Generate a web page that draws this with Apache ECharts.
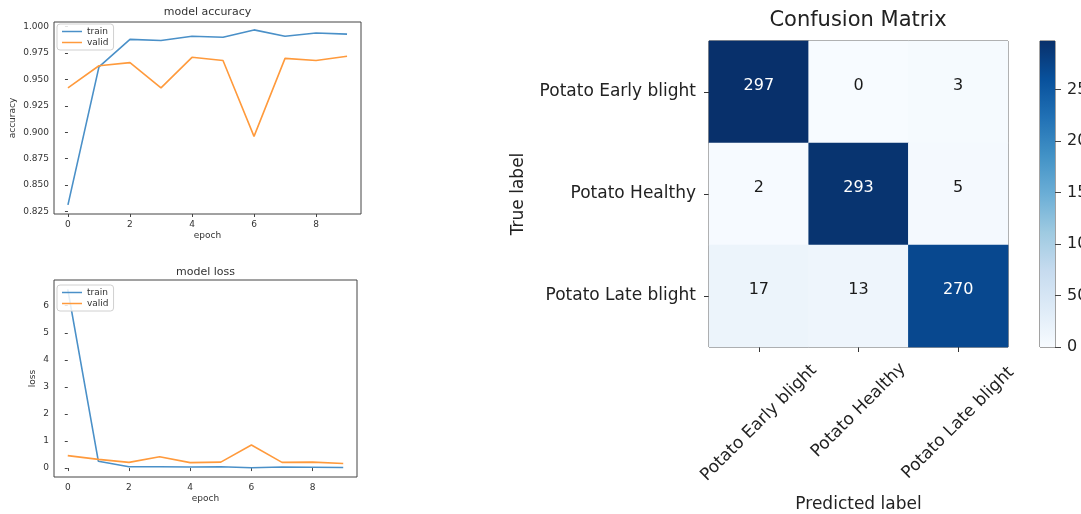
<!DOCTYPE html>
<html>
<head>
<meta charset="utf-8">
<script src="https://cdn.jsdelivr.net/npm/echarts@6/dist/echarts.min.js"></script>
<style>
  html, body { margin: 0; padding: 0; background: #fff; }
  #chart { width: 1081px; height: 514px; }
</style>
</head>
<body>
<div id="chart"></div>
<script>
// Training history (per epoch)
const epochs = [0, 1, 2, 3, 4, 5, 6, 7, 8, 9];
const accTrain = [0.831, 0.962, 0.988, 0.987, 0.991, 0.990, 0.997, 0.991, 0.994, 0.993];
const accValid = [0.942, 0.963, 0.966, 0.942, 0.971, 0.968, 0.896, 0.970, 0.968, 0.972];
const lossTrain = [6.6, 0.25, 0.05, 0.05, 0.04, 0.05, 0.01, 0.04, 0.03, 0.02];
const lossValid = [0.46, 0.32, 0.21, 0.42, 0.20, 0.22, 0.85, 0.21, 0.22, 0.17];

// Tick labels
const epochTicks = [0, 2, 4, 6, 8];
const accTicks = [0.825, 0.850, 0.875, 0.900, 0.925, 0.950, 0.975, 1.000];
const lossTicks = [0, 1, 2, 3, 4, 5, 6];
const colorbarTicks = [0, 50, 100, 150, 200, 250];

// Confusion matrix (rows: true label, columns: predicted label)
const classes = ['Potato Early blight', 'Potato Healthy', 'Potato Late blight'];
const cmRow0 = [297, 0, 3];
const cmRow1 = [2, 293, 5];
const cmRow2 = [17, 13, 270];

// matplotlib "Blues" colormap
const blues = ['#f7fbff', '#deebf7', '#c6dbef', '#9ecae1', '#6baed6', '#4292c6', '#2171b5', '#08519c', '#08306b'];

const FONT = 'DejaVu Sans';
const TXT = '#333';
const cm = [cmRow0, cmRow1, cmRow2];
const cmMax = Math.max(...cm.flat());
const thresh = cmMax / 2;

const heatData = [];
cm.forEach((row, i) => row.forEach((v, j) => {
  heatData.push({ value: [j, i, v], label: { color: v > thresh ? '#ffffff' : '#1a1a1a' } });
}));

const pairs = (ys) => epochs.map((e, i) => [e, ys[i]]);

function lineAxisX(grid) {
  return {
    type: 'value', gridIndex: grid, min: -0.45, max: 9.45,
    name: 'epoch', nameLocation: 'middle', nameGap: 17,
    nameTextStyle: { fontSize: 9, color: TXT, fontFamily: FONT },
    axisLine: { show: false },
    axisTick: { show: true, length: 3, customValues: epochTicks, lineStyle: { color: '#444' } },
    axisLabel: { customValues: epochTicks, fontSize: 9, color: TXT, margin: 6, fontFamily: FONT },
    splitLine: { show: false }
  };
}

// legend entries drawn as plain line segments
function legendAt(top) {
  return {
    orient: 'vertical', left: 57, top: top,
    padding: [3, 5], itemGap: 2, itemWidth: 20, itemHeight: 10,
    icon: 'path://M0,0H40V3H0Z', symbolKeepAspect: true,
    borderColor: '#d0d0d0', borderWidth: 1, borderRadius: 3,
    backgroundColor: 'rgba(255,255,255,0.85)',
    textStyle: { fontSize: 9, color: TXT, fontFamily: FONT },
    data: ['train', 'valid']
  };
}

const BLUE = '#4a90c8';
const ORANGE = '#ff9a3c';

const option = {
  animation: false,
  backgroundColor: '#ffffff',
  textStyle: { fontFamily: FONT },
  title: [
    { text: 'model accuracy', left: 207.5, top: 7, textAlign: 'center', padding: 0,
      textStyle: { fontSize: 11, fontWeight: 'normal', color: TXT, fontFamily: FONT } },
    { text: 'model loss', left: 205.5, top: 267, textAlign: 'center', padding: 0,
      textStyle: { fontSize: 11, fontWeight: 'normal', color: TXT, fontFamily: FONT } },
    { text: 'Confusion Matrix', left: 858, top: 10, textAlign: 'center', padding: 0,
      textStyle: { fontSize: 21, fontWeight: 'normal', color: '#222', fontFamily: FONT } }
  ],
  legend: [
    Object.assign(legendAt(24), { id: 'accLegend' }),
    Object.assign(legendAt(285), { id: 'lossLegend' })
  ],
  visualMap: {
    show: false, type: 'continuous', min: 0, max: cmMax, seriesIndex: 4,
    inRange: { color: blues }
  },
  grid: [
    { left: 54, top: 22, width: 307, height: 192, show: true, borderColor: '#444', borderWidth: 1, outerBoundsMode: 'none' },
    { left: 54, top: 280, width: 303, height: 197, show: true, borderColor: '#444', borderWidth: 1, outerBoundsMode: 'none' },
    { left: 709, top: 41, width: 299, height: 306, show: true, borderColor: '#333', borderWidth: 1, outerBoundsMode: 'none' },
    { left: 1040, top: 41, width: 15, height: 306, show: true, borderColor: '#444', borderWidth: 1, outerBoundsMode: 'none' }
  ],
  xAxis: [
    lineAxisX(0),
    lineAxisX(1),
    {
      type: 'category', gridIndex: 2, data: classes,
      name: 'Predicted label', nameLocation: 'middle', nameGap: 149,
      nameTextStyle: { fontSize: 17, color: '#222', fontFamily: FONT },
      axisLine: { show: false },
      axisTick: { show: true, alignWithLabel: true, length: 5, lineStyle: { color: '#333' } },
      axisLabel: {
        rotate: 45, align: 'center', verticalAlign: 'middle', margin: 76, interval: 0,
        formatter: (v, i) => '{s' + i + '|' + v + '}',
        rich: {
          s0: { fontSize: 17, color: '#222', fontFamily: FONT },
          s1: { fontSize: 17, color: '#222', fontFamily: FONT, padding: [0, 0, 18, 18] },
          s2: { fontSize: 17, color: '#222', fontFamily: FONT }
        }
      },
      splitLine: { show: false }
    },
    { type: 'category', gridIndex: 3, data: ['scale'], show: false }
  ],
  yAxis: [
    {
      type: 'value', gridIndex: 0, min: 0.8224, max: 1.0045,
      name: 'accuracy', nameLocation: 'middle', nameGap: 37, nameRotate: 90,
      nameTextStyle: { fontSize: 9, color: TXT, fontFamily: FONT },
      axisLine: { show: false },
      axisTick: { show: true, length: 3, customValues: accTicks, lineStyle: { color: '#444' } },
      axisLabel: { customValues: accTicks, fontSize: 9, color: TXT, margin: 5, fontFamily: FONT,
        formatter: (v) => v.toFixed(3) },
      splitLine: { show: false }
    },
    {
      type: 'value', gridIndex: 1, min: -0.33, max: 6.95,
      name: 'loss', nameLocation: 'middle', nameGap: 17, nameRotate: 90,
      nameTextStyle: { fontSize: 9, color: TXT, fontFamily: FONT },
      axisLine: { show: false },
      axisTick: { show: true, length: 3, customValues: lossTicks, lineStyle: { color: '#444' } },
      axisLabel: { customValues: lossTicks, fontSize: 9, color: TXT, margin: 5, fontFamily: FONT },
      splitLine: { show: false }
    },
    {
      type: 'category', gridIndex: 2, data: classes, inverse: true,
      name: 'True label', nameLocation: 'middle', nameGap: 182, nameRotate: 90,
      nameTextStyle: { fontSize: 17, color: '#222', fontFamily: FONT },
      axisLine: { show: false },
      axisTick: { show: true, alignWithLabel: true, length: 5, lineStyle: { color: '#333' } },
      axisLabel: { fontSize: 17, color: '#222', margin: 13, fontFamily: FONT },
      splitLine: { show: false }
    },
    {
      type: 'value', gridIndex: 3, min: 0, max: cmMax, position: 'right',
      axisLine: { show: false },
      axisTick: { show: true, length: 6, customValues: colorbarTicks, lineStyle: { color: '#444' } },
      axisLabel: { customValues: colorbarTicks, fontSize: 16, color: '#222', margin: 12, fontFamily: FONT },
      splitLine: { show: false }
    }
  ],
  series: [
    { name: 'train', type: 'line', xAxisIndex: 0, yAxisIndex: 0, data: pairs(accTrain),
      symbol: 'none', color: BLUE, lineStyle: { width: 1.6, color: BLUE } },
    { name: 'valid', type: 'line', xAxisIndex: 0, yAxisIndex: 0, data: pairs(accValid),
      symbol: 'none', color: ORANGE, lineStyle: { width: 1.6, color: ORANGE } },
    { name: 'train', type: 'line', xAxisIndex: 1, yAxisIndex: 1, data: pairs(lossTrain),
      symbol: 'none', color: BLUE, lineStyle: { width: 1.6, color: BLUE } },
    { name: 'valid', type: 'line', xAxisIndex: 1, yAxisIndex: 1, data: pairs(lossValid),
      symbol: 'none', color: ORANGE, lineStyle: { width: 1.6, color: ORANGE } },
    {
      name: 'confusion', type: 'heatmap', xAxisIndex: 2, yAxisIndex: 2, data: heatData,
      label: { show: true, fontSize: 16, fontFamily: FONT, offset: [0, -6],
        formatter: (p) => String(p.value[2]) },
      emphasis: { disabled: true }
    },
    {
      name: 'colorbar', type: 'bar', xAxisIndex: 3, yAxisIndex: 3, data: [cmMax],
      barWidth: '100%', silent: true,
      itemStyle: {
        color: new echarts.graphic.LinearGradient(0, 1, 0, 0,
          blues.map((c, i) => ({ offset: i / (blues.length - 1), color: c })))
      }
    }
  ]
};

const chart = echarts.init(document.getElementById('chart'), null, { renderer: 'canvas' });
chart.setOption(option);
</script>
</body>
</html>
